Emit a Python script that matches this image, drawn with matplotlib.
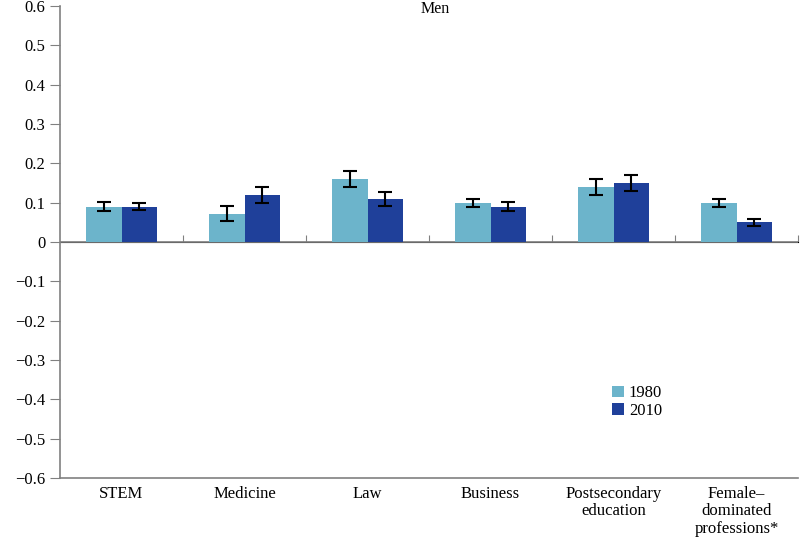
import numpy as np
from matplotlib import pyplot as plt

plt.rcParams['font.family'] = ['Liberation Serif', 'DejaVu Serif']

categories = ['STEM', 'Medicine', 'Law', 'Business', 'Postsecondary\neducation',
              'Female–\ndominated\nprofessions*']
vals_1980 = [0.09, 0.072, 0.16, 0.10, 0.14, 0.10]
err_1980 = [0.012, 0.02, 0.02, 0.01, 0.02, 0.01]
vals_2010 = [0.09, 0.12, 0.11, 0.09, 0.15, 0.05]
err_2010 = [0.01, 0.02, 0.018, 0.011, 0.02, 0.009]

c1980 = '#6cb4cb'
c2010 = '#1f409a'
grey = '#808080'

fig = plt.figure(figsize=(8, 5.43), dpi=100)
ax = fig.add_axes([0.075, 0.12, 0.9225, 0.869])

x = np.arange(len(categories))
w = 0.285
ax.bar(x - w / 2, vals_1980, w, color=c1980, label='1980', zorder=2)
ax.bar(x + w / 2, vals_2010, w, color=c2010, label='2010', zorder=2)
ax.errorbar(x - w / 2, vals_1980, yerr=err_1980, fmt='none', ecolor='black',
            elinewidth=1.5, capsize=5, capthick=1.5, zorder=3)
ax.errorbar(x + w / 2, vals_2010, yerr=err_2010, fmt='none', ecolor='black',
            elinewidth=1.5, capsize=5, capthick=1.5, zorder=3)

ax.set_xlim(-0.5, 5.5)
ax.set_ylim(-0.6, 0.6)
ax.set_yticks(np.arange(-0.6, 0.61, 0.1))
ax.set_yticklabels(['\u22120.6', '\u22120.5', '\u22120.4', '\u22120.3', '\u22120.2', '\u22120.1',
                    '0', '0.1', '0.2', '0.3', '0.4', '0.5', '0.6'])
ax.set_xticks(x)
ax.set_xticklabels(categories, fontsize=12, va='top', linespacing=1.1)
ax.tick_params(axis='x', length=0, pad=6)
ax.tick_params(axis='y', length=7, color=grey, labelsize=12, direction='out')

for s in ['top', 'right']:
    ax.spines[s].set_visible(False)
for s in ['left', 'bottom']:
    ax.spines[s].set_color(grey)
    ax.spines[s].set_linewidth(1.2)

# zero line with category boundary ticks
ax.axhline(0, color=grey, lw=1.2, zorder=1)
sec = ax.secondary_xaxis(0.5)
sec.set_xticks(np.arange(0.5, 5.6, 1.0))
sec.set_xticklabels([])
sec.tick_params(length=5, color=grey, direction='out')
sec.spines['bottom'].set_visible(False)

fig.text(0.544, 0.998, 'Men', ha='center', va='top', fontsize=11.5)

ax.legend(loc='upper left', bbox_to_anchor=(0.728, 0.228), frameon=False, fontsize=12,
          handlelength=0.7, handleheight=0.7, handletextpad=0.3, labelspacing=0.1)

fig.savefig('out.png', dpi=100)
